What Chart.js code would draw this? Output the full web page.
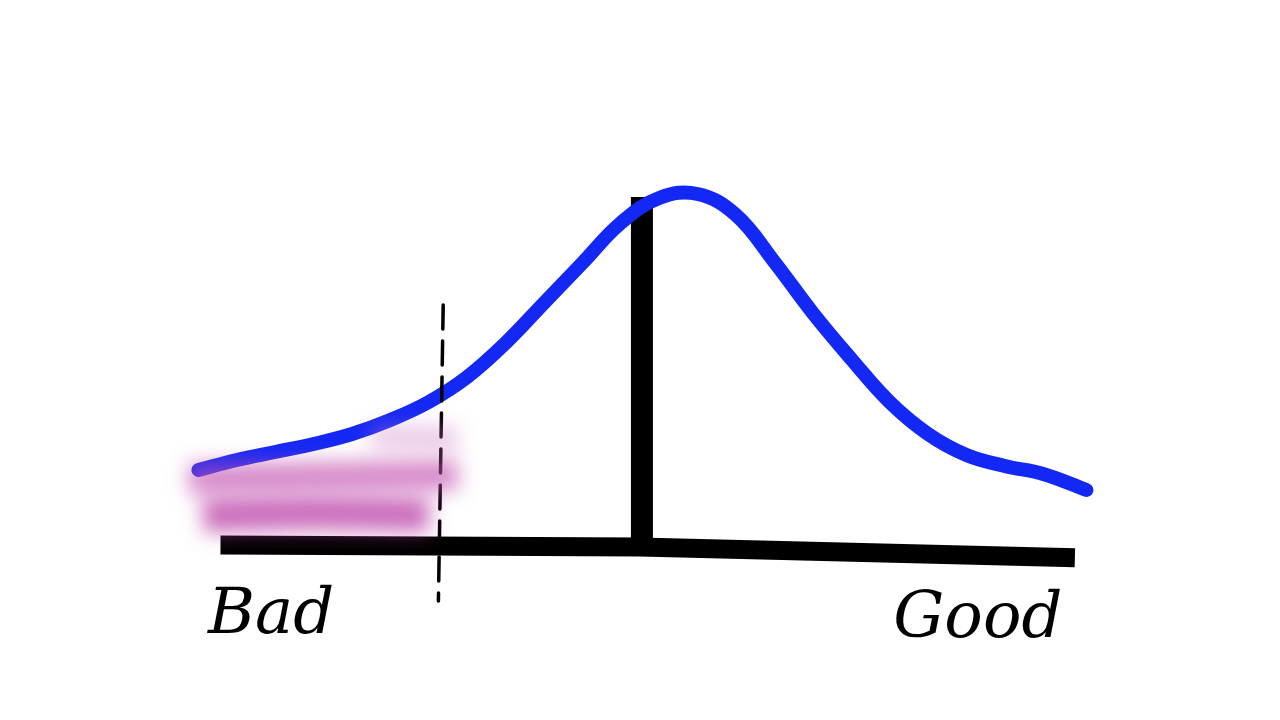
<!DOCTYPE html>
<html>
<head>
<meta charset="utf-8">
<title>Bad / Good distribution</title>
<script src="https://cdn.jsdelivr.net/npm/chart.js@4.4.1/dist/chart.umd.min.js"></script>
<style>
  html, body { margin: 0; padding: 0; background: #fff; }
  #wrap { width: 1280px; height: 720px; }
</style>
</head>
<body>
<div id="wrap"><canvas id="curveChart" width="1280" height="720"></canvas></div>
<script>
// hand-drawn distribution: score on x (0-100), frequency on y
const curveX = [4, 8, 12, 16, 20, 24, 28, 32, 36, 40, 44, 48, 52, 56, 60, 64, 68, 72, 76, 80, 84, 88, 92, 96.5];
const curveY = [18.75, 21.25, 23.25, 25.25, 27.75, 31.25, 35.75, 42, 50.5, 60.5, 70.5, 80.5, 86.75, 87.75, 82.5, 70.75, 58, 46.5, 35.75, 27.75, 22.5, 19.75, 17.75, 13.75];

// the median bar and the cut-off
const medianX = [50.2, 50.2];
const medianY = [0, 87];
const cutoffX = [29.5, 29];
const cutoffY = [60, -14];

// baseline axis (drawn a bit crooked)
const baseX = [6.3, 50, 95.3];
const baseY = [0, -0.5, -3.2];

// purple smudge under the tail
const smudgeLightX = [22, 31];
const smudgeLightY = [27, 26.5];
const smudgeMidX = [3, 17, 31];
const smudgeMidY = [16.5, 17, 17.5];
const smudgeLowX = [4.5, 17, 28];
const smudgeLowY = [7.5, 8, 7.5];

const endLabels = ["Bad", "Good"];

function pts(xs, ys) {
  return xs.map((x, i) => ({ x: x, y: ys[i] }));
}

// soft blur for the smudge datasets
const blurPlugin = {
  id: "blur",
  beforeDatasetDraw(chart, args) {
    const b = chart.data.datasets[args.index].blur;
    if (b) {
      chart.ctx.save();
      chart.ctx.filter = "blur(" + b + "px)";
    }
  },
  afterDatasetDraw(chart, args) {
    if (chart.data.datasets[args.index].blur) chart.ctx.restore();
  },
};

// "Bad" and "Good" written under the ends of the axis
const labelPlugin = {
  id: "endLabels",
  afterDraw(chart) {
    const { ctx, scales } = chart;
    ctx.save();
    ctx.fillStyle = "#000";
    ctx.font = 'italic 64px "DejaVu Serif"';
    ctx.textBaseline = "alphabetic";
    ctx.textAlign = "left";
    ctx.fillText(endLabels[0], scales.x.getPixelForValue(5), scales.y.getPixelForValue(-22));
    ctx.textAlign = "right";
    ctx.fillText(endLabels[1], scales.x.getPixelForValue(94), scales.y.getPixelForValue(-23));
    ctx.restore();
  },
};

const line = (extra) => Object.assign({
  showLine: true,
  pointRadius: 0,
  tension: 0.4,
  fill: false,
  borderCapStyle: "round",
  borderJoinStyle: "round",
}, extra);

new Chart(document.getElementById("curveChart"), {
  type: "scatter",
  data: {
    datasets: [
      line({ data: pts(smudgeLightX, smudgeLightY), borderColor: "rgba(205,120,195,0.4)", borderWidth: 24, blur: 10, borderCapStyle: "butt" }),
      line({ data: pts(smudgeMidX, smudgeMidY), borderColor: "rgba(195,80,175,0.68)", borderWidth: 30, blur: 10, borderCapStyle: "butt" }),
      line({ data: pts(smudgeLowX, smudgeLowY), borderColor: "rgba(185,60,165,0.75)", borderWidth: 34, blur: 10, borderCapStyle: "butt" }),
      line({ data: pts(baseX, baseY), borderColor: "#000", borderWidth: 19, borderCapStyle: "butt", tension: 0 }),
      line({ data: pts(cutoffX, cutoffY), borderColor: "#000", borderWidth: 3.5, borderDash: [24, 12], tension: 0 }),
      line({ data: pts(curveX, curveY), borderColor: "#1428f5", borderWidth: 14 }),
      line({ data: pts(medianX, medianY), borderColor: "#000", borderWidth: 22, borderCapStyle: "butt", tension: 0 }),
    ],
  },
  options: {
    responsive: false,
    animation: false,
    layout: { padding: { left: 160, right: 160, top: 145, bottom: 95 } },
    plugins: {
      legend: { display: false },
      tooltip: { enabled: false },
    },
    scales: {
      x: { type: "linear", min: 0, max: 100, display: false },
      y: { type: "linear", min: -20, max: 100, display: false },
    },
  },
  plugins: [blurPlugin, labelPlugin],
});
</script>
</body>
</html>
